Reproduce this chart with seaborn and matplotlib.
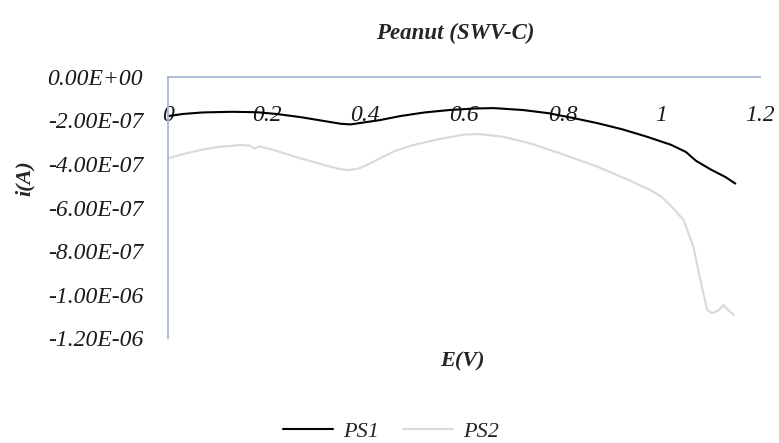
import numpy as np
import pandas as pd
import seaborn as sns
import matplotlib
matplotlib.use("Agg")
import matplotlib.pyplot as plt
from matplotlib.ticker import FuncFormatter, FixedLocator

# Square-wave voltammetry scans, current in units of 1e-7 A
ps1_e = [0.00, 0.03, 0.07, 0.13, 0.18, 0.22, 0.27, 0.31, 0.35, 0.37, 0.40, 0.43,
         0.47, 0.52, 0.57, 0.62, 0.66, 0.72, 0.77, 0.82, 0.87, 0.92, 0.97, 1.02,
         1.05, 1.07, 1.10, 1.13, 1.15]
ps1_i = [-1.80, -1.70, -1.63, -1.60, -1.62, -1.70, -1.85, -2.00, -2.15, -2.18, -2.08, -1.98,
         -1.80, -1.63, -1.52, -1.45, -1.43, -1.52, -1.66, -1.88, -2.12, -2.40, -2.74, -3.12,
         -3.45, -3.85, -4.25, -4.60, -4.90]

ps2_e = [0.00, 0.03, 0.065, 0.10, 0.146, 0.165, 0.176, 0.185, 0.22, 0.268, 0.31, 0.345,
         0.363, 0.385, 0.403, 0.43, 0.46, 0.497, 0.55, 0.60, 0.63, 0.68, 0.734, 0.80,
         0.87, 0.93, 0.978, 1.00, 1.018, 1.045, 1.065, 1.079, 1.093, 1.103, 1.115, 1.126,
         1.137, 1.147]
ps2_i = [-3.74, -3.55, -3.36, -3.22, -3.13, -3.15, -3.30, -3.18, -3.40, -3.74, -4.00, -4.22,
         -4.28, -4.22, -4.05, -3.74, -3.40, -3.13, -2.85, -2.65, -2.62, -2.75, -3.05, -3.55,
         -4.12, -4.70, -5.20, -5.50, -5.89, -6.57, -7.80, -9.33, -10.71, -10.86, -10.75, -10.48,
         -10.75, -10.94]

series_names = ["PS1", "PS2"]
series_colors = ["#000000", "#d9d9d9"]
x_ticks = [0, 0.2, 0.4, 0.6, 0.8, 1.0, 1.2]
x_tick_labels = ["0", "0.2", "0.4", "0.6", "0.8", "1", "1.2"]
y_ticks = [0, -2e-7, -4e-7, -6e-7, -8e-7, -1e-6, -1.2e-6]

df = pd.concat([
    pd.DataFrame({"E": ps1_e, "i": np.array(ps1_i) * 1e-7, "scan": "PS1"}),
    pd.DataFrame({"E": ps2_e, "i": np.array(ps2_i) * 1e-7, "scan": "PS2"}),
], ignore_index=True)

sns.set_theme(style="white")
plt.rcParams["font.family"] = ["Liberation Serif", "DejaVu Serif"]

fig = plt.figure(figsize=(7.79, 4.43), dpi=100)
ax = fig.add_axes([0.2157, 0.237, 0.7599, 0.5892])

sns.lineplot(data=df, x="E", y="i", hue="scan", hue_order=series_names,
             palette=dict(zip(series_names, series_colors)), sort=False,
             estimator=None, linewidth=1.5, ax=ax, legend=False)

ax.set_xlim(0, 1.2)
ax.set_ylim(-1.2e-6, 0)

axis_color = "#a6b8d0"
ax.spines["bottom"].set_position(("data", 0))
ax.spines["top"].set_visible(False)
ax.spines["right"].set_visible(False)
for s in ("bottom", "left"):
    ax.spines[s].set_color(axis_color)
    ax.spines[s].set_linewidth(1.3)

ax.xaxis.set_major_locator(FixedLocator(x_ticks))
ax.set_xticklabels(x_tick_labels)
ax.yaxis.set_major_locator(FixedLocator(y_ticks))

def sci_label(v, pos):
    if abs(v) < 1e-15:
        return "0.00E+00"
    return f"{v:.2E}"

ax.yaxis.set_major_formatter(FuncFormatter(sci_label))
ax.tick_params(axis="x", length=0, pad=20, labelsize=17, labelcolor="#1a1a1a")
ax.tick_params(axis="y", length=0, pad=18, labelsize=17, labelcolor="#1a1a1a")
for lbl in ax.get_xticklabels() + ax.get_yticklabels():
    lbl.set_fontstyle("italic")

ax.set_xlabel("")
ax.set_ylabel("")
ax.grid(False)

fig.text(0.585, 0.925, "Peanut (SWV-C)", ha="center", va="center",
         fontsize=16.5, fontweight="bold", fontstyle="italic")
fig.text(0.032, 0.598, "i(A)", ha="center", va="center", rotation=90,
         fontsize=16, fontweight="bold", fontstyle="italic")
fig.text(0.594, 0.185, "E(V)", ha="center", va="center",
         fontsize=16, fontweight="bold", fontstyle="italic")

handles = [plt.Line2D([], [], color=c, linewidth=1.5) for c in series_colors]
leg = fig.legend(handles, series_names, loc="center", bbox_to_anchor=(0.502, 0.025),
                 ncol=2, frameon=False, handlelength=2.25, columnspacing=1.1,
                 handletextpad=0.45, prop={"size": 16, "style": "italic"})

fig.savefig("out.png", dpi=100)
